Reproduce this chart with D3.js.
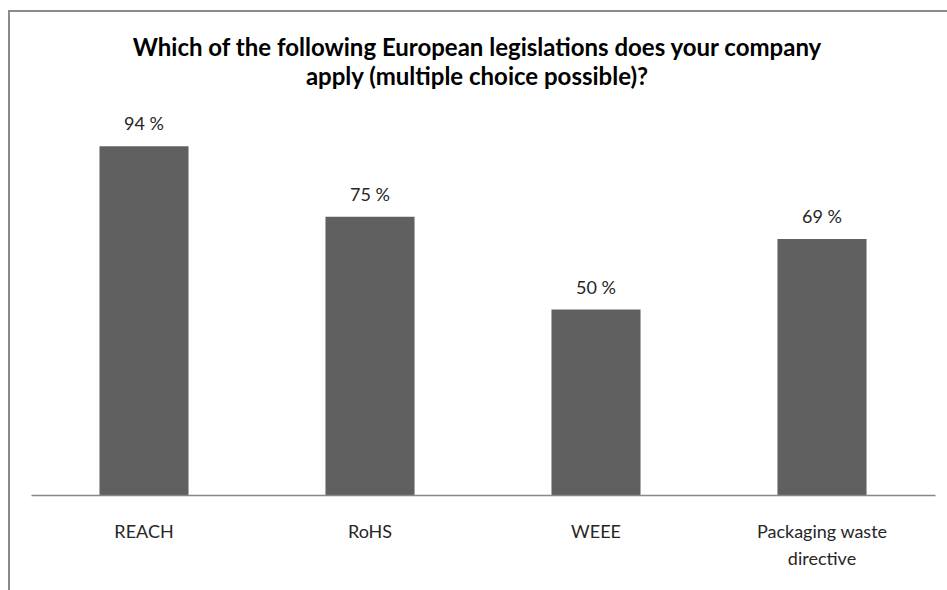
<!DOCTYPE html>
<html>
<head>
<meta charset="utf-8">
<script src="https://cdn.jsdelivr.net/npm/d3@7"></script>
<style>
    body { margin: 0; background: #fff; }
    svg { display: block; font-family: Lato, "Open Sans", sans-serif; }
</style>
</head>
<body>
<script>
// Chart data
var categories = ["REACH", "RoHS", "WEEE", "Packaging waste directive"];
var values = [94, 75, 50, 69];
var titleLines = ["Which of the following European legislations does your company",
                  "apply (multiple choice possible)?"];

window.onload = drawChart();

function drawChart(){

    var width = 947,
        height = 590;

    var svg = d3.select("body")
        .append("svg")
        .attr("width", width)
        .attr("height", height);

    // Outer frame (runs off the right and bottom edges)
    svg.append("path")
        .attr("d", "M9,600 V11 H960")
        .attr("fill", "none")
        .attr("stroke", "#8a8a8a")
        .attr("stroke-width", 2);

    // Scales
    var x = d3.scaleBand()
        .domain(categories)
        .range([31, 935])
        .paddingInner(0.606)
        .paddingOuter(0.303);

    var y = d3.scaleLinear()
        .domain([0, 100])
        .range([495, 124]);

    // Title
    svg.append("text")
        .attr("x", 477)
        .attr("y", 56)
        .attr("text-anchor", "middle")
        .attr("font-weight", "bold")
        .attr("font-size", 24)
        .attr("fill", "#000")
        .selectAll("tspan")
        .data(titleLines)
        .enter()
        .append("tspan")
        .attr("x", 477)
        .attr("dy", function(d, i){ return i === 0 ? 0 : 29; })
        .text(function(d){ return d; });

    // Bars
    svg.selectAll(".bar")
        .data(values)
        .enter()
        .append("rect")
        .attr("class", "bar")
        .attr("x", function(d, i){ return x(categories[i]); })
        .attr("y", function(d){ return y(d); })
        .attr("width", x.bandwidth())
        .attr("height", function(d){ return y(0) - y(d); })
        .attr("fill", "#606060");

    // Value labels
    svg.selectAll(".val")
        .data(values)
        .enter()
        .append("text")
        .attr("class", "val")
        .attr("x", function(d, i){ return x(categories[i]) + x.bandwidth() / 2; })
        .attr("y", function(d){ return y(d) - 16; })
        .attr("text-anchor", "middle")
        .attr("font-size", 18)
        .attr("fill", "#262626")
        .text(function(d){ return d + " %"; });

    // Category axis
    var axis = svg.append("g")
        .attr("transform", "translate(0," + y(0) + ")")
        .call(d3.axisBottom(x).tickSize(0).tickSizeOuter(0).tickPadding(0));

    axis.select(".domain")
        .attr("stroke", "#888")
        .attr("stroke-width", 1.5);

    axis.selectAll(".tick text").remove();

    // Wrapped category labels
    var wrap = { "Packaging waste directive": ["Packaging waste", "directive"] };

    axis.selectAll(".tick")
        .append("text")
        .attr("y", 43)
        .attr("text-anchor", "middle")
        .attr("font-size", 18)
        .attr("font-family", "Lato, sans-serif")
        .attr("fill", "#262626")
        .selectAll("tspan")
        .data(function(d){ return wrap[d] || [d]; })
        .enter()
        .append("tspan")
        .attr("x", 0)
        .attr("dy", function(d, i){ return i === 0 ? 0 : 27; })
        .text(function(d){ return d; });
}
</script>
</body>
</html>
